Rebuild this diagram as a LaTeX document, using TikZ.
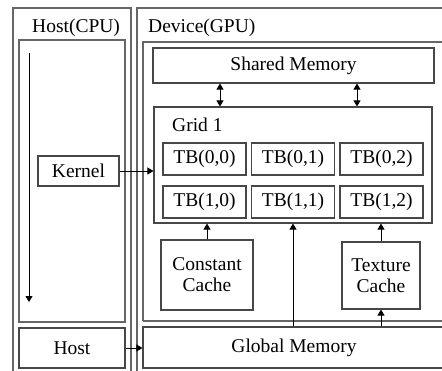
\documentclass[tikz,border=0pt]{standalone}
\usepackage{fontspec}
\setmainfont{Liberation Serif}
\usetikzlibrary{arrows.meta,calc}
\begin{document}
\begin{tikzpicture}[x=1pt,y=-1pt,
  frame/.style={draw=black!60,line width=1.1pt},
  box/.style={draw=black!72,line width=1.1pt,inner sep=0pt,align=center,
    font=\fontsize{19.5}{21}\selectfont},
  lbl/.style={inner sep=0pt,font=\fontsize{19.5}{21}\selectfont},
  arr/.style={draw=black,line width=0.9pt,-{Triangle[length=6pt,width=7pt]}},
  darr/.style={draw=black,line width=0.9pt,{Triangle[length=6pt,width=7pt]}-{Triangle[length=6pt,width=7pt]}}]
\clip (0,0) rectangle (442,370);
\fill[white] (0,0) rectangle (442,370);
% frames
\draw[frame] (13,380) -- (13,8) -- (131,8) -- (131,380);
\draw[frame] (137,380) -- (137,8) -- (460,8);
\draw[frame] (19,40) rectangle (125,322);
\draw[frame] (143,321) -- (143,42) -- (460,42);
\draw[frame] (460,321) -- (143,321);
% titles
\node[lbl,anchor=base west] (hcpu) at (32,32) {Host(CPU)};
\node[lbl,anchor=base west] (dgpu) at (148,32) {Device(GPU)};
% nodes
\node[box,minimum width=281pt,minimum height=35pt] (sm) at (293.5,65.5) {Shared Memory};
\node[box,minimum width=278pt,minimum height=116pt] (grid) at (293,165) {};
\node[lbl,anchor=base west] (gl) at (172,131) {Grid 1};
\node[box,minimum width=83pt,minimum height=32pt] (tb00) at (204.5,159) {TB(0,0)};
\node[box,minimum width=83pt,minimum height=32pt] (tb01) at (293,159) {TB(0,1)};
\node[box,minimum width=83pt,minimum height=32pt] (tb02) at (381.5,159) {TB(0,2)};
\node[box,minimum width=83pt,minimum height=32pt] (tb10) at (204.5,202) {TB(1,0)};
\node[box,minimum width=83pt,minimum height=32pt] (tb11) at (293,202) {TB(1,1)};
\node[box,minimum width=83pt,minimum height=32pt] (tb12) at (381.5,202) {TB(1,2)};
\node[box,minimum width=81pt,minimum height=30pt] (kernel) at (78.5,171) {Kernel};
\node[box,minimum width=92pt,minimum height=70pt] (cc) at (207,275) {Constant\\Cache};
\node[box,minimum width=78pt,minimum height=67pt] (tc) at (381,275.5) {Texture\\Cache};
\node[box,minimum width=106pt,minimum height=40pt] (host) at (72,348) {Host};
\node[box,minimum width=302pt,minimum height=41pt] (gm) at (294,347.5) {Global Memory};
% connectors
\coordinate (s1) at (220,0);
\coordinate (s2) at (357,0);
\coordinate (hs) at (29,53);
\coordinate (he) at (29,302);
\draw[darr] (s1 |- sm.south) -- (s1 |- grid.north);
\draw[darr] (s2 |- sm.south) -- (s2 |- grid.north);
\draw[arr] (kernel.east) -- (kernel.east -| grid.west);
\draw[arr] (hs) -- (he);
\draw[arr] (host.east) -- (host.east -| gm.west);
\draw[arr] (cc.north) -- (cc.north |- grid.south);
\draw[arr] (tc.north) -- (tc.north |- grid.south);
\draw[arr] (tc.south |- gm.north) -- (tc.south);
\draw[arr] (tb11.south |- gm.north) -- (tb11.south |- grid.south);
\end{tikzpicture}
\end{document}
